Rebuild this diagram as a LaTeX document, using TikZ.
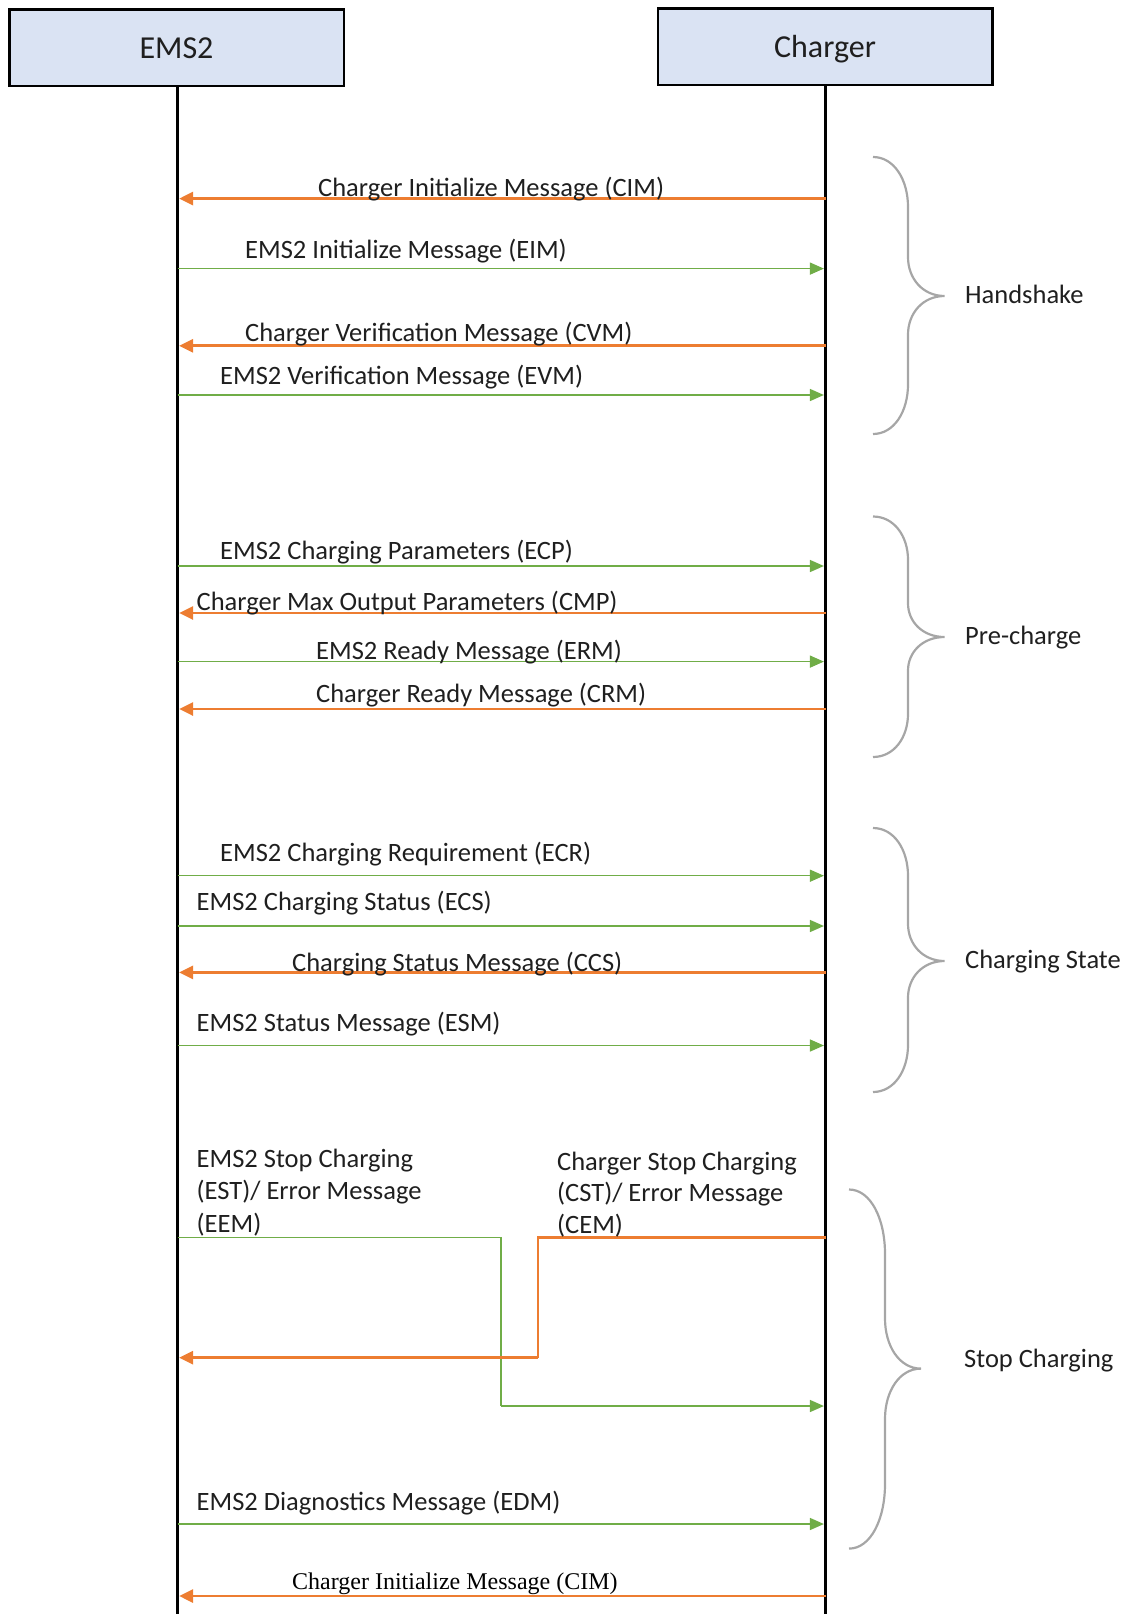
\documentclass[tikz,border=0pt]{standalone}
\usepackage{fontspec}
\setmainfont{Carlito}
\newfontfamily\timesfont{Liberation Serif}
\usetikzlibrary{arrows.meta}
\definecolor{orng}{HTML}{ED7D31}
\definecolor{grn}{HTML}{70AD47}
\definecolor{hdr}{HTML}{DAE3F3}
\definecolor{brc}{HTML}{A6A6A6}
\definecolor{txt}{HTML}{1F1F1F}
\newcommand\curlybrace[6]{%
  \pgfmathsetmacro\bha{0.36*(#5-#4)}%
  \pgfmathsetmacro\bhb{0.28*(#5-#4)}%
  \pgfmathsetmacro\bhc{0.28*(#6-#5)}%
  \pgfmathsetmacro\bhd{0.36*(#6-#5)}%
  \draw[bracestyle] (#1,#4)
    .. controls ({#1+0.6*(#2-#1)},#4) and (#2,{#4+0.45*\bha}) .. (#2,{#4+\bha})
    -- (#2,{#5-\bhb})
    .. controls (#2,{#5-0.45*\bhb}) and ({#2+0.4*(#3-#2)},#5) .. (#3,#5)
    .. controls ({#2+0.4*(#3-#2)},#5) and (#2,{#5+0.45*\bhc}) .. (#2,{#5+\bhc})
    -- (#2,{#6-\bhd})
    .. controls (#2,{#6-0.45*\bhd}) and ({#1+0.6*(#2-#1)},#6) .. (#1,#6);%
}
\begin{document}
\begin{tikzpicture}[x=1pt,y=-1pt,
  hdrbox/.style={draw=black,line width=2.5pt,fill=hdr,minimum width=334.5pt,minimum height=76.5pt,inner sep=0pt,text height=22pt,text depth=0pt,font=\fontsize{32}{38}\selectfont,text=txt},
  lifeline/.style={draw=black,line width=3.2pt},
  omsg/.style={draw=orng,line width=2.8pt,shorten >=1.6pt,-{Triangle[length=14pt,width=13pt]}},
  gmsg/.style={draw=grn,line width=1.5pt,shorten >=1.6pt,-{Triangle[length=14pt,width=12pt]}},
  oline/.style={draw=orng,line width=2.8pt},
  gline/.style={draw=grn,line width=1.5pt},
  lbl/.style={font=\fontsize{26.5}{32.5}\selectfont,inner sep=0pt,anchor=base west,text=txt},
  tlbl/.style={font=\fontsize{24}{30}\selectfont\timesfont,inner sep=0pt,anchor=base west,text=black},
  bracestyle/.style={draw=brc,line width=2.2pt},
]
\useasboundingbox (0,0) rectangle (1133,1614);

% headers and lifelines
\node[hdrbox] (ems) at (176.5,47.5) {EMS2};
\node[hdrbox] (chg) at (825,46.5) {Charger};
\coordinate (emsEnd) at (177.5,1614);
\coordinate (chgEnd) at (825.5,1614);
\draw[lifeline] (ems.south -| emsEnd) -- (emsEnd);
\draw[lifeline] (chg.south -| chgEnd) -- (chgEnd);

% Handshake
\coordinate (E1) at (177.5,198.6); \coordinate (C1) at (825.5,198.6);
\draw[omsg] (C1) -- (E1);
\node[lbl] (cim) at (318,196) {Charger Initialize Message (CIM)};
\coordinate (E2) at (177.5,268.6); \coordinate (C2) at (825.5,268.6);
\draw[gmsg] (E2) -- (C2);
\node[lbl] (eim) at (245,258) {EMS2 Initialize Message (EIM)};
\coordinate (E3) at (177.5,345.8); \coordinate (C3) at (825.5,345.8);
\draw[omsg] (C3) -- (E3);
\node[lbl] (cvm) at (245,341.5) {Charger Verification Message (CVM)};
\coordinate (E4) at (177.5,395); \coordinate (C4) at (825.5,395);
\draw[gmsg] (E4) -- (C4);
\node[lbl] (evm) at (220,384.5) {EMS2 Verification Message (EVM)};

% Pre-charge
\coordinate (E5) at (177.5,566); \coordinate (C5) at (825.5,566);
\draw[gmsg] (E5) -- (C5);
\node[lbl] (ecp) at (220,559.6) {EMS2 Charging Parameters (ECP)};
\coordinate (E6) at (177.5,613); \coordinate (C6) at (825.5,613);
\draw[omsg] (C6) -- (E6);
\node[lbl] (cmp) at (196.5,610.7) {Charger Max Output Parameters (CMP)};
\coordinate (E7) at (177.5,661.6); \coordinate (C7) at (825.5,661.6);
\draw[gmsg] (E7) -- (C7);
\node[lbl] (erm) at (316,659) {EMS2 Ready Message (ERM)};
\coordinate (E8) at (177.5,709); \coordinate (C8) at (825.5,709);
\draw[omsg] (C8) -- (E8);
\node[lbl] (crm) at (316,702.6) {Charger Ready Message (CRM)};

% Charging state
\coordinate (E9) at (177.5,875.7); \coordinate (C9) at (825.5,875.7);
\draw[gmsg] (E9) -- (C9);
\node[lbl] (ecr) at (220,861) {EMS2 Charging Requirement (ECR)};
\coordinate (E10) at (177.5,926); \coordinate (C10) at (825.5,926);
\draw[gmsg] (E10) -- (C10);
\node[lbl] (ecs) at (196.5,910) {EMS2 Charging Status (ECS)};
\coordinate (E11) at (177.5,972.4); \coordinate (C11) at (825.5,972.4);
\draw[omsg] (C11) -- (E11);
\node[lbl] (ccs) at (292,971) {Charging Status Message (CCS)};
\coordinate (E12) at (177.5,1045.5); \coordinate (C12) at (825.5,1045.5);
\draw[gmsg] (E12) -- (C12);
\node[lbl] (esm) at (196.5,1031) {EMS2 Status Message (ESM)};

% Stop charging
\coordinate (E13) at (177.5,1237.7); \coordinate (G1) at (501,1237.7);
\coordinate (G2) at (501,1406); \coordinate (C13) at (825.5,1406);
\draw[gline] (E13) -- (G1) -- (G2);
\draw[gmsg] (G2) -- (C13);
\node[lbl] (eemA) at (196.5,1167) {EMS2 Stop Charging};
\node[lbl] (eemB) at (196.5,1199.5) {(EST)/ Error Message};
\node[lbl] (eemC) at (196.5,1232) {(EEM)};
\coordinate (C14) at (825.5,1237.7); \coordinate (O1) at (538,1237.7);
\coordinate (O2) at (538,1357.7); \coordinate (E14) at (177.5,1357.7);
\draw[oline] (C14) -- (O1) -- (O2);
\draw[omsg] (O2) -- (E14);
\node[lbl] (cemA) at (557,1170) {Charger Stop Charging};
\node[lbl] (cemB) at (557,1201.7) {(CST)/ Error Message};
\node[lbl] (cemC) at (557,1233.4) {(CEM)};

\coordinate (E15) at (177.5,1524); \coordinate (C15) at (825.5,1524);
\draw[gmsg] (E15) -- (C15);
\node[lbl] (edm) at (196.5,1510) {EMS2 Diagnostics Message (EDM)};
\coordinate (E16) at (177.5,1596); \coordinate (C16) at (825.5,1596);
\draw[omsg] (C16) -- (E16);
\node[tlbl] (cim2) at (292,1589) {Charger Initialize Message (CIM)};

% braces
\curlybrace{873}{908}{944.6}{157}{296}{434}
\node[lbl] (hs) at (965,303.5) {Handshake};
\curlybrace{873}{908}{944.6}{516.5}{637}{757}
\node[lbl] (pc) at (965,644) {Pre-charge};
\curlybrace{873}{908}{944.6}{828}{961}{1092}
\node[lbl] (cs) at (965,968) {Charging State};
\curlybrace{849}{885}{921}{1189.5}{1368.6}{1548.6}
\node[lbl] (sc) at (964,1367) {Stop Charging};
\end{tikzpicture}
\end{document}
